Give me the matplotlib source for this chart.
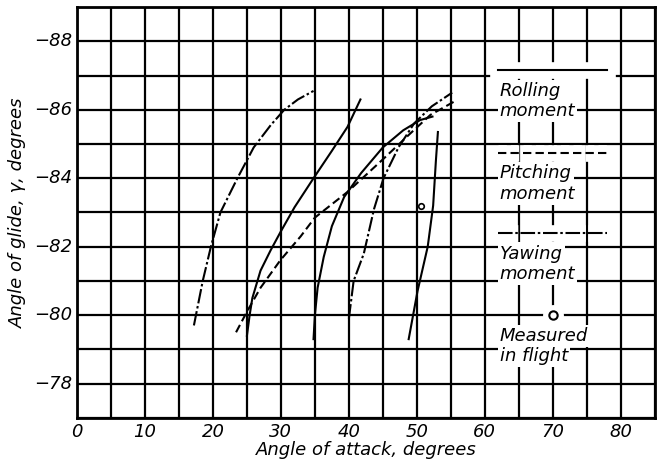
import matplotlib
matplotlib.use("Agg")
import matplotlib.pyplot as plt
import matplotlib.patheffects as pe
import numpy as np

# curves: angle of attack (deg) vs angle of glide (deg)
roll_a_x = [25.0, 25.4, 25.8, 27.0, 28.5, 30.0, 32.0, 34.8, 37.5, 39.8, 41.7]
roll_a_y = [-79.4, -80.0, -80.5, -81.3, -81.9, -82.45, -83.15, -84.0, -84.8, -85.5, -86.3]

roll_b_x = [34.8, 35.0, 35.4, 36.3, 37.5, 39.3, 41.8, 45.0, 48.0, 50.5, 52.3]
roll_b_y = [-79.3, -80.0, -80.8, -81.7, -82.6, -83.45, -84.15, -84.9, -85.4, -85.7, -85.8]

roll_c_x = [48.8, 50.1, 51.6, 52.4, 52.8, 53.1]
roll_c_y = [-79.3, -80.7, -82.0, -83.2, -84.5, -85.35]

pitch_x = [23.4, 25.0, 27.0, 29.9, 32.9, 35.0, 39.8, 45.0, 49.0, 52.0, 55.6]
pitch_y = [-79.5, -80.1, -80.8, -81.6, -82.3, -82.85, -83.6, -84.55, -85.3, -85.85, -86.25]

yaw_a_x = [17.2, 18.5, 19.7, 21.1, 23.6, 26.0, 28.5, 30.5, 32.5, 34.8]
yaw_a_y = [-79.7, -81.0, -82.0, -83.0, -84.0, -84.9, -85.55, -86.0, -86.3, -86.55]

yaw_b_x = [40.0, 40.7, 42.2, 43.7, 45.1, 47.3, 49.6, 52.2, 55.2]
yaw_b_y = [-79.9, -81.0, -81.8, -83.1, -84.0, -84.9, -85.6, -86.1, -86.5]

flight_x = [50.6]
flight_y = [-83.2]

x_ticks = np.arange(0, 86, 5)
y_ticks = np.arange(-89, -76, 1)
x_labels = ["0", "10", "20", "30", "40", "50", "60", "70", "80"]
y_label_vals = [-78, -80, -82, -84, -86, -88]
y_labels = ["\u221278", "\u221280", "\u221282", "\u221284", "\u221286", "\u221288"]

dashdot = (0, (7, 1.3, 1.2, 1.3))
dashed = (0, (4, 2))
font = dict(family="DejaVu Sans", style="italic")

fig = plt.figure(figsize=(6.61, 4.69), dpi=100)
ax = fig.add_axes([0.1165, 0.109, 0.874, 0.876])

ax.set_xlim(0, 85)
ax.set_ylim(-77, -89)
ax.set_xticks(x_ticks)
ax.set_yticks(y_ticks)
ax.set_xticklabels([x_labels[i // 2] if i % 2 == 0 else "" for i in range(len(x_ticks))], **font, fontsize=13)
ax.set_yticklabels(["" for _ in y_ticks])
for v, lab in zip(y_label_vals, y_labels):
    ax.text(-0.7, v, lab, ha="right", va="center", fontsize=13, **font)
ax.tick_params(length=0, pad=4)
ax.grid(True, color="black", linewidth=1.6)
for s in ax.spines.values():
    s.set_linewidth(2)

lw = 1.5
ax.plot(roll_a_x, roll_a_y, color="black", lw=lw)
ax.plot(roll_b_x, roll_b_y, color="black", lw=lw)
ax.plot(roll_c_x, roll_c_y, color="black", lw=lw)
ax.plot(pitch_x, pitch_y, color="black", lw=lw, linestyle=dashed)
ax.plot(yaw_a_x, yaw_a_y, color="black", lw=lw, linestyle=dashdot)
ax.plot(yaw_b_x, yaw_b_y, color="black", lw=lw, linestyle=dashdot)
ax.plot(flight_x, flight_y, "o", ms=4, mfc="white", mec="black", mew=1.2)

# key inside the grid, drawn over a white mask
halo = [pe.Stroke(linewidth=12, foreground="white"), pe.Normal()]
box = dict(facecolor="white", edgecolor="none", pad=1.5)
keys = [("solid", -87.15, "Rolling", "moment", -86.55),
        (dashed, -84.75, "Pitching", "moment", -84.14),
        (dashdot, -82.4, "Yawing", "moment", -81.8)]
for ls, ly, t1, t2, ty in keys:
    ax.plot([62.0, 78.0], [ly, ly], color="black", lw=lw, linestyle=ls,
            path_effects=halo, zorder=4)
    ax.text(62.2, ty, t1, fontsize=13, va="center", ha="left", bbox=box, zorder=5, **font)
    ax.text(62.2, ty + 0.59, t2, fontsize=13, va="center", ha="left", bbox=box, zorder=5, **font)

ax.plot([70], [-80], "o", ms=14, mfc="white", mec="white", zorder=4)
ax.plot([70], [-80], "o", ms=6, mfc="white", mec="black", mew=1.5, zorder=5)
ax.text(62.2, -79.4, "Measured", fontsize=13, va="center", ha="left", bbox=box, zorder=5, **font)
ax.text(62.2, -78.81, "in flight", fontsize=13, va="center", ha="left", bbox=box, zorder=5, **font)

ax.set_xlabel("Angle of attack, degrees", fontsize=13, labelpad=0, **font)
ax.set_ylabel("Angle of glide, \u03b3, degrees", fontsize=13, **font)
ax.yaxis.set_label_coords(-0.086, 0.5)

fig.savefig("out.png", dpi=100)
